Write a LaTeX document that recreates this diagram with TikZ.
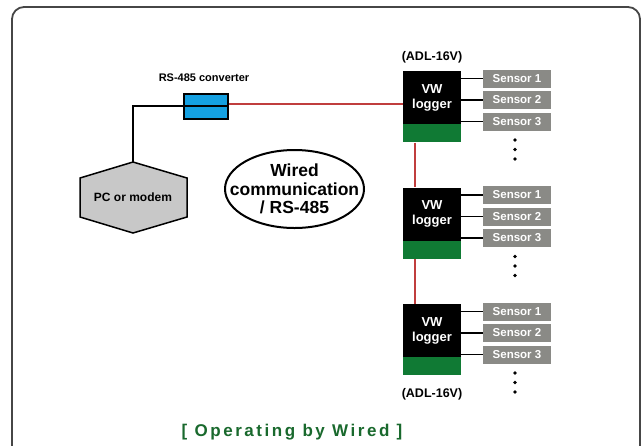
\documentclass[tikz,border=0pt]{standalone}
\usepackage{fontspec}
\setmainfont{Liberation Sans}
\newfontfamily\titlefont[LetterSpace=15]{Liberation Sans}
\usetikzlibrary{positioning, calc, shapes.geometric}
\definecolor{convblue}{RGB}{20,160,225}
\definecolor{loggergreen}{RGB}{16,122,52}
\definecolor{sensorgray}{RGB}{138,138,134}
\definecolor{wirered}{RGB}{192,62,62}
\definecolor{pcgray}{RGB}{200,200,200}
\definecolor{framegray}{RGB}{70,70,70}
\definecolor{titlegreen}{RGB}{25,105,45}

\begin{document}
\begin{tikzpicture}[x=1pt, y=-1pt,
    logger/.style={rectangle, fill=black, text=white, minimum width=58pt, minimum height=53pt, inner sep=0pt, align=center, font=\bfseries\fontsize{13}{15}\selectfont},
    loggerbase/.style={rectangle, fill=loggergreen, minimum width=58pt, minimum height=18pt, inner sep=0pt},
    sensor/.style={rectangle, fill=sensorgray, text=white, minimum width=68pt, minimum height=18pt, inner sep=0pt, font=\bfseries\fontsize{11.5}{12}\selectfont},
    tag/.style={font=\bfseries\fontsize{12.5}{14}\selectfont},
    redwire/.style={draw=wirered, line width=1.3pt},
    blackwire/.style={draw=black, line width=1.2pt}]
\useasboundingbox (0,0) rectangle (644,445);
% frame
\draw[line width=1.8pt, framegray, rounded corners=12pt] (12,460) -- (12,7) -- (640,7) -- (640,460);

% loggers with their sensors
\foreach \i/\t in {1/71,2/187.5,3/304}{
  \node[logger] (lg\i) at (432,\t+26.5) {VW\\logger};
  \node[loggerbase, below=0pt of lg\i] (lgb\i) {};
  \foreach \j/\d in {1/7.5,2/29,3/50.5}{
    \node[sensor] (s\i\j) at (517,\t+\d) {Sensor \j};
    \draw[blackwire] (lg\i.east |- s\i\j) -- (s\i\j.west);
  }
  \foreach \d in {69,78.5,88} \fill (515,\t+\d) circle (1.8pt);
}
\node[tag] (adltop) at (432,57) {(ADL-16V)};
\node[tag] (adlbot) at (432,394) {(ADL-16V)};
\draw[redwire] ([xshift=-17pt]lgb1.south) -- ([xshift=-17pt]lg2.north);
\draw[redwire] ([xshift=-17pt]lgb2.south) -- ([xshift=-17pt]lg3.north);

% converter and pc
\node[font=\bfseries\fontsize{11}{13}\selectfont] (convlabel) at (204,78) {RS-485 converter};
\node[draw, line width=2pt, fill=convblue, minimum width=44pt, minimum height=25pt, inner sep=0pt] (conv) at (206,106) {};
\draw[line width=2pt] (conv.west) -- (conv.east);
\draw[line width=1.5pt, fill=pcgray] (133,162) -- (187,178) -- (187,217) -- (133,233) -- (80,217) -- (80,178) -- cycle;
\node[font=\bfseries\fontsize{12}{14}\selectfont] (pc) at (133,197) {PC or modem};
\coordinate (pctop) at (133,162);
\draw[blackwire] (conv.west) -| (pctop);
\draw[redwire] ([yshift=2pt]conv.east) -- ([yshift=2pt]conv.east -| lg1.west);

% label in the middle
\node[ellipse, draw, line width=2pt, minimum width=139pt, minimum height=78pt] (wired) at (294.5,189) {};
\node[align=center, font=\bfseries\fontsize{17.5}{18.5}\selectfont] (wiredtext) at (wired.center) {Wired\\communication\\/ RS-485};

\node[text=titlegreen, font=\titlefont\bfseries\fontsize{17}{20}\selectfont] (title) at (292,432) {[ Operating by Wired ]};
\end{tikzpicture}
\end{document}
